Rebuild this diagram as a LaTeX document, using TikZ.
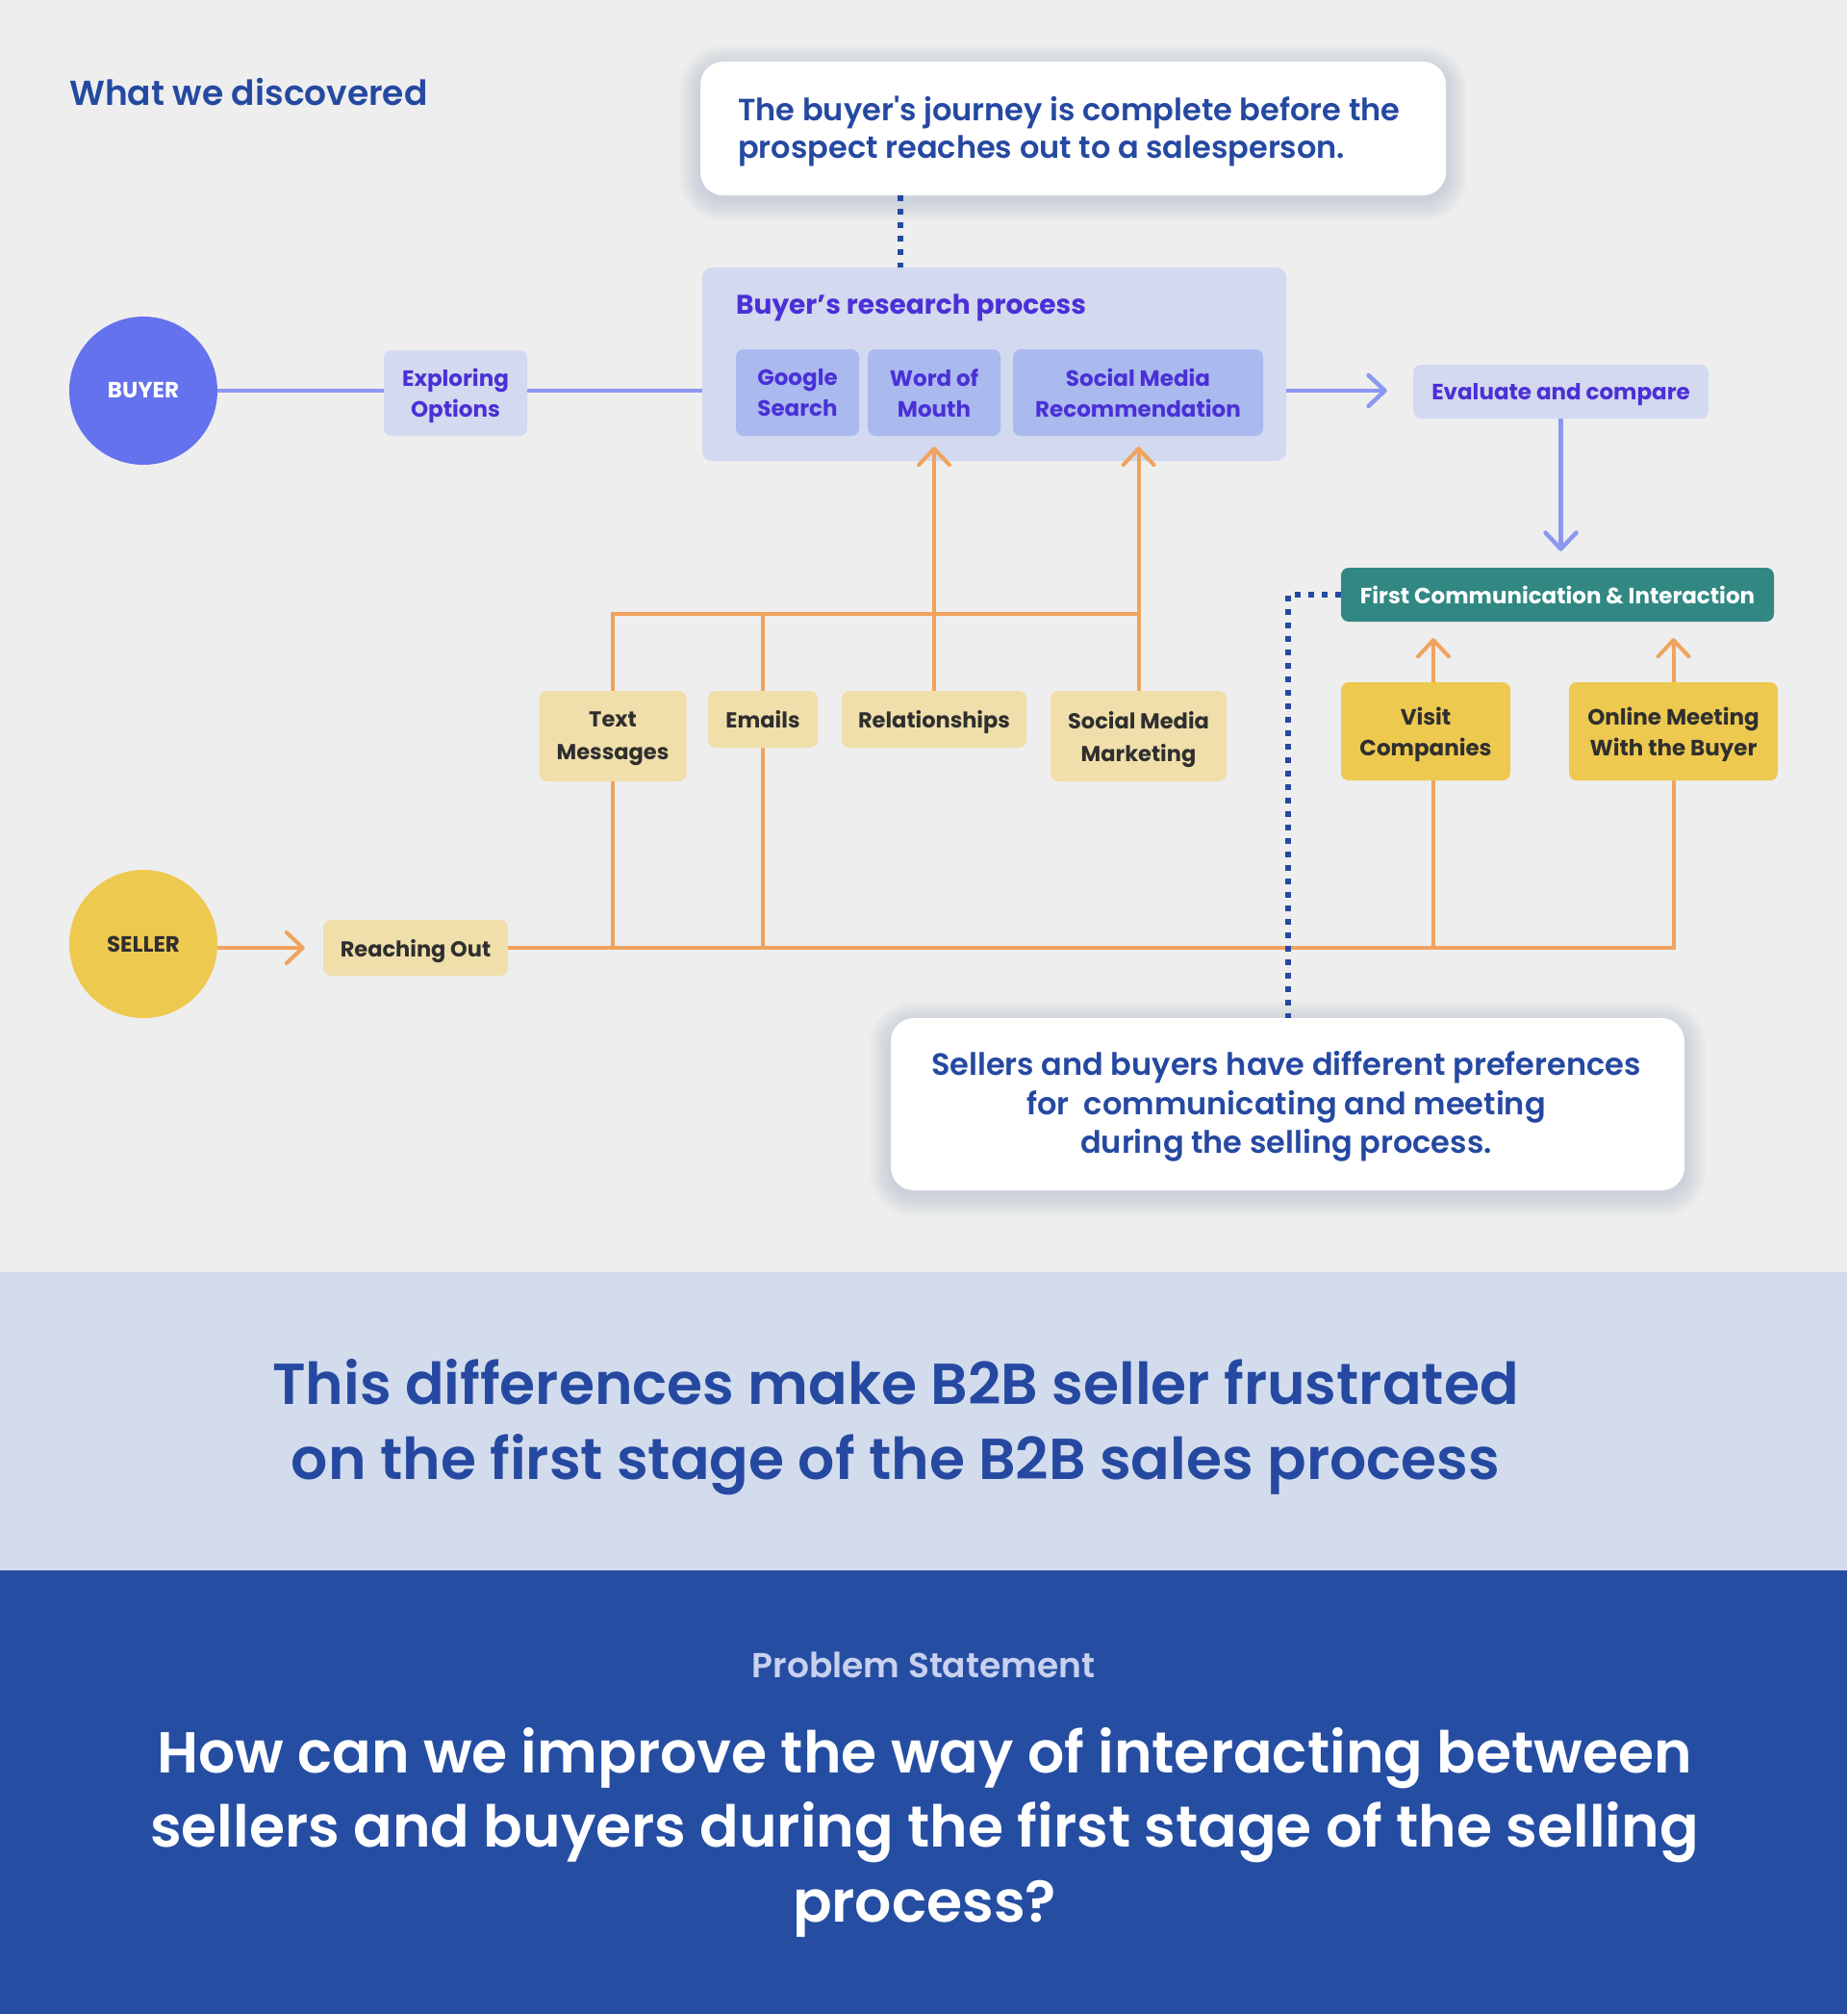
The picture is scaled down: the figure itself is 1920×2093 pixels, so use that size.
\documentclass[tikz,border=0pt]{standalone}
\usepackage{fontspec}
\setmainfont{Poppins}
\IfFontExistsTF{Poppins SemiBold}{\newfontfamily\semi{Poppins SemiBold}}{\newcommand\semi{\bfseries}}
\IfFontExistsTF{Poppins Medium}{\newfontfamily\med{Poppins Medium}}{\newcommand\med{\mdseries}}
\usetikzlibrary{arrows.meta,calc}

\definecolor{bg}{HTML}{EEEEEE}
\definecolor{band}{HTML}{D3DCEC}
\definecolor{navy}{HTML}{254EA3}
\definecolor{lav}{HTML}{D3D9EF}
\definecolor{subblue}{HTML}{AAB9EE}
\definecolor{purp}{HTML}{4A30D6}
\definecolor{dblue}{HTML}{2549A1}
\definecolor{bluel}{HTML}{8C98EF}
\definecolor{buyerc}{HTML}{6472EE}
\definecolor{yel}{HTML}{EEC94F}
\definecolor{tan}{HTML}{F0DFAA}
\definecolor{ink}{HTML}{2F2F2F}
\definecolor{tealc}{HTML}{318883}
\definecolor{orangec}{HTML}{F0A35C}
\definecolor{dotc}{HTML}{2549A3}
\definecolor{psc}{HTML}{C9D1EF}
\definecolor{shadowc}{HTML}{8C98BC}

% soft shadow behind a rounded card: x1 y1 x2 y2 corner-radius
\newcommand\softshadow[5]{%
  \foreach \i in {1,...,14}{%
    \pgfmathsetmacro\rr{#5+1.6*\i}%
    \pgfmathsetmacro\dd{1.6*\i}%
    \fill[shadowc, opacity=0.022, rounded corners=\rr pt]
      (#1-\dd,#2-\dd+5) rectangle (#3+\dd,#4+\dd+5);
  }%
}

\tikzset{
  wh/.style 2 args={minimum width=#1pt, minimum height=#2pt},
  pbox/.style={fill=lav, rounded corners=8pt, inner sep=0pt, align=center,
    text=purp, text depth=0pt, font=\bfseries\fontsize{23}{32}\selectfont},
  sbox/.style={pbox, fill=subblue},
  tbox/.style={fill=tan, rounded corners=8pt, inner sep=0pt, align=center,
    text=ink, text depth=0pt, font=\bfseries\fontsize{22.5}{34}\selectfont},
  ybox/.style={tbox, fill=yel, font=\bfseries\fontsize{23}{32}\selectfont},
  card/.style={fill=white, rounded corners=24pt, inner sep=0pt},
  role/.style={circle, minimum size=154pt, inner sep=0pt,
    font=\bfseries\fontsize{23}{28}\selectfont},
  bline/.style={draw=bluel, line width=4.5pt},
  oline/.style={draw=orangec, line width=4pt},
  chev/.style={-{Straight Barb[length=17pt,width=32pt,line cap=round,line join=round]}},
  dots/.style={draw=dotc, line width=6pt, dash pattern=on 6pt off 8pt},
  calltext/.style={text=dblue, inner sep=0pt, font=\semi\fontsize{32}{40}\selectfont},
}

\begin{document}
\begin{tikzpicture}[x=1pt,y=-1pt]
\useasboundingbox (0,0) rectangle (1920,2093);

% page bands
\fill[bg] (0,0) rectangle (1920,1322);
\fill[band] (0,1322) rectangle (1920,1632);
\fill[navy] (0,1632) rectangle (1920,2093);

% heading
\node[anchor=base west, inner sep=0pt, text=dblue, font=\semi\fontsize{36}{44}\selectfont]
  (heading) at (72,109) {What we discovered};

% top insight card
\softshadow{728}{64}{1503}{203}{24}
\node[card, wh={775}{139}] (callout1) at (1115.5,133.5) {};
\node[calltext, anchor=base west] (c1a) at (767,125) {The buyer's journey is complete before the};
\node[calltext, anchor=base west] (c1b) at (767,164) {prospect reaches out to a salesperson.};

% bottom insight card
\softshadow{926}{1058}{1751}{1237}{24}
\node[card, wh={825}{179}] (callout2) at (1338.5,1147.5) {};
\node[calltext, anchor=base] (c2a) at (1337,1117) {Sellers and buyers have different preferences};
\node[calltext, anchor=base] (c2b) at (1337,1158) {for\ \ communicating and meeting};
\node[calltext, anchor=base] (c2c) at (1337,1198) {during the selling process.};

% buyer side
\node[role, fill=buyerc, text=white] (buyer) at (149,406) {BUYER};
\node[pbox, wh={149}{89}] (explore) at (473.5,408.5) {Exploring\\Options};
\node[fill=lav, rounded corners=10pt, wh={607}{201}] (research) at (1033.5,378.5) {};
\node[anchor=base west, inner sep=0pt, text=purp, font=\bfseries\fontsize{28}{32}\selectfont]
  (rtitle) at (765,326) {Buyer’s research process};
\node[sbox, wh={128}{90}] (google) at (829,408) {Google\\Search};
\node[sbox, wh={138}{90}] (word) at (971,408) {Word of\\Mouth};
\node[sbox, wh={260}{90}] (socrec) at (1183,408) {Social Media\\Recommendation};
\node[pbox, wh={307}{56}] (evaluate) at (1622.5,407) {Evaluate and compare};
\node[fill=tealc, rounded corners=8pt, inner sep=0pt, text=white, text depth=0pt,
  font=\bfseries\fontsize{23}{28}\selectfont, wh={450}{56}] (firstcomm) at (1619,618)
  {First Communication \& Interaction};

% seller side
\node[role, fill=yel, text=ink] (seller) at (149,981) {SELLER};
\node[tbox, wh={192}{58}] (reach) at (432,985) {Reaching Out};
\node[tbox, wh={153}{94}] (textmsg) at (637,765) {Text\\Messages};
\node[tbox, wh={114}{59}] (emails) at (793,747.5) {Emails};
\node[tbox, wh={192}{59}] (relation) at (971,747.5) {Relationships};
\node[tbox, wh={183}{94}] (smm) at (1183.5,765) {Social Media\\Marketing};
\node[ybox, wh={176}{102}] (visit) at (1482,760) {Visit\\Companies};
\node[ybox, wh={217}{102}] (online) at (1739.5,760) {Online Meeting\\With the Buyer};

\coordinate (hl) at (0,638);
\coordinate (vx) at (1490,0);
\coordinate (dx) at (936,0);

% buyer flow
\draw[bline] (buyer.east) -- (buyer.east -| explore.west);
\draw[bline] (explore.east |- buyer.east) -- (research.west |- buyer.east);
\draw[bline, chev] (research.east |- buyer.east) -- ($(evaluate.west |- buyer.east)+(-27,0)$);
\draw[bline, chev] (evaluate.south) -- ($(firstcomm.north -| evaluate.south)+(0,-17)$);

% seller flow
\draw[oline, chev] (seller.east |- reach.west) -- ($(reach.west)+(-19,0)$);
\draw[oline] (reach.east) -| (online.south);
\draw[oline] (visit.south -| vx) -- (vx |- reach.east);
\draw[oline, chev] (visit.north -| vx) -- ($(firstcomm.south -| vx)+(0,17)$);
\draw[oline, chev] (online.north) -- ($(firstcomm.south -| online.north)+(0,17)$);
\draw[oline] (textmsg.north) -- (textmsg.north |- hl) -- (smm.north |- hl) -- (smm.north);
\draw[oline] (textmsg.south) -- (textmsg.south |- reach.east);
\draw[oline] (emails.north |- hl) -- (emails.north);
\draw[oline] (emails.south) -- (emails.south |- reach.east);
\draw[oline] (relation.north) -- (relation.north |- hl);
\draw[oline, chev] (relation.north |- hl) -- ($(relation.north |- word.south)+(0,11)$);
\draw[oline, chev] (smm.north |- hl) -- ($(smm.north |- socrec.south)+(0,11)$);

% dotted links to the insight cards
\draw[dots] (callout1.south -| dx) -- (research.north -| dx);
\draw[dots] (firstcomm.west) -| (callout2.north);

% conclusion band
\node[anchor=base, inner sep=0pt, text=dblue, font=\semi\fontsize{60}{78}\selectfont]
  (f1) at (931,1459) {This differences make B2B seller frustrated};
\node[anchor=base, inner sep=0pt, text=dblue, font=\semi\fontsize{60}{78}\selectfont]
  (f2) at (931,1537) {on the first stage of the B2B sales process};

% problem statement
\node[anchor=base, inner sep=0pt, text=psc, font=\semi\fontsize{36}{40}\selectfont]
  (pst) at (960,1743) {Problem Statement};
\node[anchor=base, inner sep=0pt, text=white, font=\semi\fontsize{60}{77}\selectfont]
  (q1) at (961,1842) {How can we improve the way of interacting between};
\node[anchor=base, inner sep=0pt, text=white, font=\semi\fontsize{60}{77}\selectfont]
  (q2) at (961,1919) {sellers and buyers during the first stage of the selling};
\node[anchor=base, inner sep=0pt, text=white, font=\semi\fontsize{60}{77}\selectfont]
  (q3) at (961,1997) {process?};
\end{tikzpicture}
\end{document}
